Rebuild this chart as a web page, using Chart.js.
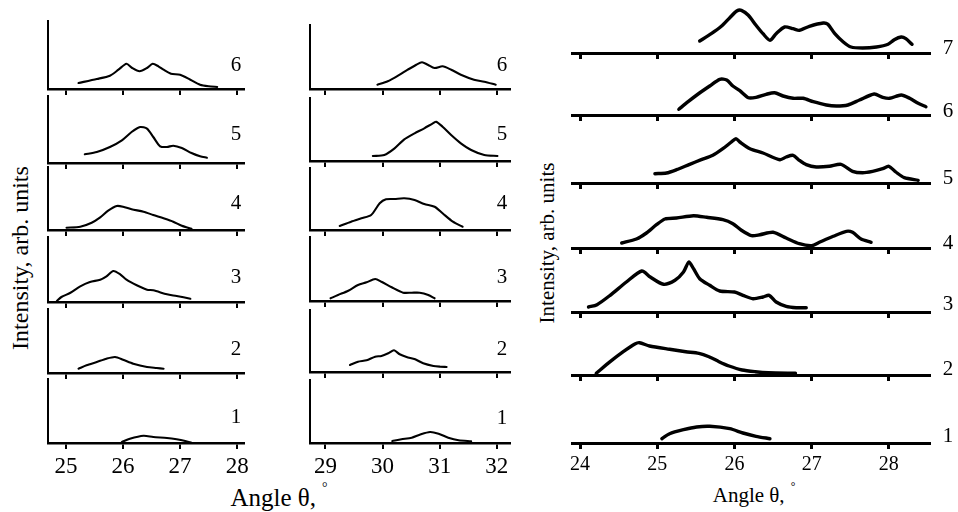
<!DOCTYPE html>
<html lang="en">
<head>
<meta charset="UTF-8">
<title>Diffraction peaks</title>
<script src="https://cdn.jsdelivr.net/npm/chart.js@4.4.0/dist/chart.umd.min.js"></script>
<style>
  body { margin: 0; background: #fff; }
  #fig { position: relative; width: 958px; height: 512px; overflow: hidden;
         font-family: 'Liberation Serif', 'Times New Roman', serif; color: #000; }
  .panel { position: absolute; }
  .num { position: absolute; transform: translate(-50%, -50%); font-size: 21px; line-height: 1; }
  .title { position: absolute; transform: translate(-50%, -50%); white-space: nowrap; line-height: 1; }
  .vtitle { position: absolute; transform: translate(-50%, -50%) rotate(-90deg); white-space: nowrap; line-height: 1; }
  .deg { position: relative; font-size: 0.55em; top: -1em; margin-left: 6px; }
</style>
</head>
<body>
<div id="fig">
  <div class="vtitle" style="left:20px;top:258px;font-size:24px">Intensity, arb. units</div>
  <div class="title" style="left:279px;top:497px;font-size:25px">Angle θ,<span class="deg">°</span></div>
  <div class="vtitle" style="left:547px;top:243px;font-size:21px">Intensity, arb. units</div>
  <div class="title" style="left:754px;top:495px;font-size:21px">Angle θ,<span class="deg">°</span></div>
</div>
<script>
// tick values of the three angle axes
const ticksA = [25, 26, 27, 28];
const ticksB = [29, 30, 31, 32];
const ticksC = [24, 25, 26, 27, 28];

// curve numbers, top to bottom
const labelsA = ['6', '5', '4', '3', '2', '1'];
const labelsB = ['6', '5', '4', '3', '2', '1'];
const labelsC = ['7', '6', '5', '4', '3', '2', '1'];

// first group: [angle, intensity]
const a6 = [[25.22,6],[25.54,10],[25.77,13.3],[25.92,19.3],[26.06,25.3],[26.16,21],[26.29,17.7],[26.42,21],[26.52,25.3],[26.62,22.7],[26.71,19.3],[26.84,15.3],[27.0,14.3],[27.18,9.3],[27.35,4.3],[27.5,2.7],[27.65,2]];
const a5 = [[25.33,8.7],[25.54,11],[25.77,16],[25.98,22.7],[26.15,31],[26.3,36],[26.42,34.3],[26.53,26],[26.65,16.7],[26.77,16],[26.88,17.3],[27.03,15],[27.2,10],[27.35,6.7],[27.47,5.3]];
const a4 = [[25.01,2.3],[25.25,3.3],[25.45,7.3],[25.6,12.7],[25.74,19.3],[25.89,24],[26.0,23.3],[26.15,20.7],[26.36,18.3],[26.53,15],[26.71,11.7],[26.88,8.3],[27.03,4.3],[27.2,1.3]];
const a3 = [[24.84,1],[24.92,5],[25.07,9],[25.25,15.7],[25.42,20],[25.6,22.3],[25.71,25.7],[25.83,31],[25.95,27.7],[26.06,22.3],[26.24,16.7],[26.42,12.3],[26.53,11.7],[26.77,7.7],[26.94,6],[27.18,3.3]];
const a2 = [[25.22,4.3],[25.36,7.7],[25.54,11],[25.71,14.3],[25.86,16],[26.0,13.3],[26.18,9.3],[26.42,6],[26.59,5],[26.71,4.3]];
const a1 = [[25.98,1],[26.12,4.3],[26.36,7.3],[26.53,6],[26.77,5],[26.94,3.7],[27.09,2],[27.2,0.3]];

// second group
const b6 = [[29.91,4.3],[30.09,7.7],[30.27,13.3],[30.44,19.3],[30.59,24.3],[30.69,26.7],[30.79,24.3],[30.91,21],[31.05,22.7],[31.2,19.3],[31.37,14.3],[31.6,9.3],[31.78,7.3],[31.98,4.3]];
const b5 = [[29.83,5],[30.03,6],[30.21,12.7],[30.38,21.7],[30.56,27.7],[30.73,32.7],[30.88,37.7],[30.94,39.3],[31.05,34.3],[31.2,26],[31.37,17.7],[31.55,11],[31.78,6],[32.01,5]];
const b4 = [[29.25,4],[29.45,8.3],[29.63,11.7],[29.8,15],[29.95,26.7],[30.06,30.7],[30.21,31],[30.38,31.7],[30.56,30],[30.73,26],[30.91,23.3],[31.05,16.7],[31.23,8.3],[31.4,3.3]];
const b3 = [[29.09,2.7],[29.22,6],[29.4,10.3],[29.57,16],[29.72,18.7],[29.87,22],[29.98,19.3],[30.16,13.7],[30.36,8.3],[30.51,8.3],[30.65,8.3],[30.8,6],[30.91,2.7]];
const b2 = [[29.43,7],[29.57,10.3],[29.72,11.7],[29.87,15.3],[29.98,16],[30.1,18.7],[30.2,21.7],[30.3,17.7],[30.42,15],[30.57,12.7],[30.71,8.7],[30.89,6],[31.01,5.3],[31.12,5]];
const b1 = [[30.17,2],[30.33,3.7],[30.51,5.3],[30.65,8.3],[30.83,11],[30.98,9.3],[31.15,5.3],[31.33,2.7],[31.55,1.7]];

// third group
const c7 = [[25.55,12],[25.7,19.3],[25.83,26.7],[25.94,35.3],[26.03,42],[26.09,42.7],[26.18,37.7],[26.28,27.7],[26.37,19.3],[26.46,12.7],[26.54,19.3],[26.65,26],[26.76,24.3],[26.84,22.7],[26.97,26.7],[27.15,30],[27.21,28.7],[27.3,19.3],[27.41,11],[27.51,6],[27.66,5],[27.84,6],[27.99,8.7],[28.07,13.3],[28.16,16],[28.22,14.3],[28.3,8.7]];
const c6 = [[25.28,5.7],[25.4,13.3],[25.53,21],[25.68,29],[25.81,35.7],[25.9,35],[25.98,29],[26.07,24.3],[26.18,17.3],[26.28,17.7],[26.41,20.7],[26.52,22.3],[26.63,19],[26.76,16.7],[26.89,16.7],[27.02,13.3],[27.19,10],[27.32,9],[27.47,10],[27.62,15],[27.81,21],[27.92,17.7],[28.01,16.7],[28.16,20],[28.27,16.7],[28.38,11.7],[28.48,8.3]];
const c5 = [[24.97,9.3],[25.12,10],[25.25,13.3],[25.42,18.7],[25.57,23.3],[25.72,27.7],[25.85,34.3],[25.96,41],[26.02,44.3],[26.07,41],[26.2,34.3],[26.37,30],[26.59,23.3],[26.67,26],[26.76,27.7],[26.84,22.7],[26.93,18.3],[27.06,16],[27.23,16.7],[27.38,18.7],[27.53,11.7],[27.66,10.3],[27.79,11.7],[27.92,14.3],[28.0,16.7],[28.09,11],[28.2,5.3],[28.38,2.7]];
const c4 = [[24.54,5],[24.73,9],[24.86,15],[24.99,23.3],[25.1,29],[25.25,30],[25.47,32.3],[25.64,30.7],[25.85,28.3],[25.98,24.3],[26.09,17.7],[26.22,12.3],[26.33,13.3],[26.5,15.7],[26.67,10],[26.84,4.3],[27.0,2.3],[27.1,5.7],[27.28,11.7],[27.45,16.7],[27.53,15.7],[27.64,9],[27.77,5.7]];
const c3 = [[24.11,5],[24.22,7.3],[24.39,16.7],[24.6,30],[24.8,41],[24.91,35],[25.08,27.7],[25.23,31.7],[25.34,40],[25.41,50],[25.47,43.3],[25.55,33.3],[25.68,26.7],[25.81,21],[26.0,20],[26.11,16.7],[26.24,13.3],[26.37,15],[26.45,16.7],[26.54,10],[26.67,5.7],[26.8,4.3],[26.93,4.3]];
const c2 = [[24.21,1.7],[24.39,13.3],[24.56,23.3],[24.71,31],[24.77,32.3],[24.9,29],[25.16,25.7],[25.37,23.3],[25.54,21.7],[25.67,18.3],[25.8,13.3],[25.93,9],[26.1,5],[26.27,3.3],[26.44,2.3],[26.79,1.7]];
const c1 = [[25.06,4.3],[25.16,9.3],[25.34,13.3],[25.51,16],[25.68,16.7],[25.94,14.3],[26.11,10],[26.28,6.7],[26.46,4.3]];

const seriesA = [a6, a5, a4, a3, a2, a1];
const seriesB = [b6, b5, b4, b3, b2, b1];
const seriesC = [c7, c6, c5, c4, c3, c2, c1];

// placement of each group on the page
const groups = [
  { series: seriesA, labels: labelsA, ticks: ticksA, min: 24.685, max: 28.12, left: 48, right: 244,
    tops: [21, 96, 167, 237, 309, 379], bases: [89, 163, 230, 302, 373, 443],
    numX: 236, numY: [64, 133, 202, 276, 348, 416],
    yAxis: true, lineW: 2.1, baseW: 2.5, tickW: 2, tickLen: 6, font: 23 },
  { series: seriesB, labels: labelsB, ticks: ticksB, min: 28.73, max: 32.23, left: 310, right: 510,
    tops: [25, 98, 168, 237, 310, 380], bases: [89, 161, 230, 301, 372, 443],
    numX: 502, numY: [64, 133, 202, 276, 348, 417],
    yAxis: true, lineW: 2.1, baseW: 2.5, tickW: 2, tickLen: 6, font: 23 },
  { series: seriesC, labels: labelsC, ticks: ticksC, min: 23.896, max: 28.52, left: 572, right: 929,
    tops: [1, 63, 131, 196, 260, 323, 391], bases: [53, 115, 183, 248, 312, 375, 443],
    numX: 948, numY: [47, 110, 177, 242, 303, 368, 435],
    yAxis: false, lineW: 3.4, baseW: 3, tickW: 3, tickLen: 6, font: 20 }
];

const fig = document.getElementById('fig');

function addPanel(g, i) {
  const last = i === g.series.length - 1;
  const top = g.tops[i], base = g.bases[i];
  const yW = g.yAxis ? 4 : 0;
  const padL = 14, padR = 16, padT = 4;
  const xH = last ? 46 : 10;
  const w = g.right - g.left + padL + yW + padR;
  const h = base - top + padT + xH;

  const holder = document.createElement('div');
  holder.className = 'panel';
  holder.style.left = (g.left - padL - yW) + 'px';
  holder.style.top = (top - padT) + 'px';
  const cv = document.createElement('canvas');
  cv.width = w; cv.height = h;
  cv.style.width = w + 'px'; cv.style.height = h + 'px';
  holder.appendChild(cv);
  fig.appendChild(holder);

  new Chart(cv, {
    type: 'line',
    data: {
      datasets: [{
        data: g.series[i].map(p => ({ x: p[0], y: p[1] })),
        borderColor: '#000',
        borderWidth: g.lineW,
        pointRadius: 0,
        tension: 0.25,
        clip: false,
        borderCapStyle: 'round',
        borderJoinStyle: 'round'
      }]
    },
    options: {
      responsive: false,
      animation: false,
      events: [],
      layout: { padding: { left: padL, right: padR, top: padT, bottom: 0 } },
      plugins: { legend: { display: false }, tooltip: { enabled: false } },
      scales: {
        x: {
          type: 'linear',
          min: g.min,
          max: g.max,
          afterBuildTicks: s => { s.ticks = g.ticks.map(v => ({ value: v })); },
          afterFit: s => { s.height = xH; },
          border: { display: true, width: g.baseW, color: '#000' },
          grid: { display: true, drawOnChartArea: false, drawTicks: true,
                  tickLength: g.tickLen, lineWidth: g.tickW, color: '#000' },
          ticks: { display: last, autoSkip: false, maxRotation: 0, padding: 4,
                   color: '#000', font: { family: 'Liberation Serif', size: g.font } }
        },
        y: {
          type: 'linear',
          display: g.yAxis,
          min: 0,
          max: base - top,
          afterFit: s => { s.width = yW; },
          border: { display: true, width: 2, color: '#000' },
          grid: { display: true, drawOnChartArea: false, drawTicks: false },
          ticks: { display: false }
        }
      }
    }
  });

  const num = document.createElement('div');
  num.className = 'num';
  num.style.left = g.numX + 'px';
  num.style.top = g.numY[i] + 'px';
  num.textContent = g.labels[i];
  fig.appendChild(num);
}

groups.forEach(g => g.series.forEach((_, i) => addPanel(g, i)));
</script>
</body>
</html>
